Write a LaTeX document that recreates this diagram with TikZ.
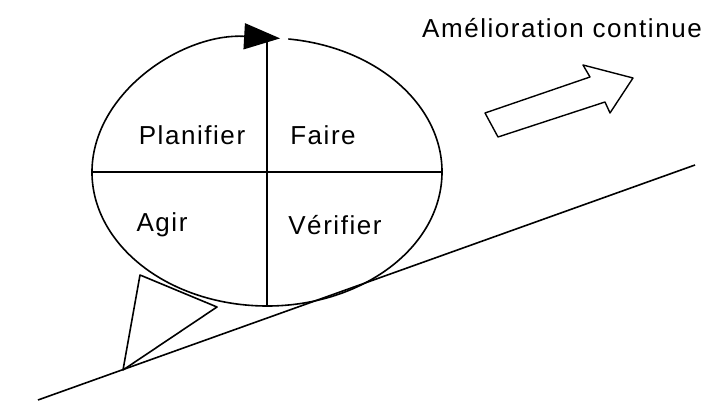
\documentclass[tikz,border=0pt]{standalone}
\usepackage{fontspec}
\usepackage{tikz}
\usetikzlibrary{arrows.meta, positioning, shapes.geometric}
\newfontfamily\diagfont[LetterSpace=6]{Liberation Sans}

\begin{document}
\begin{tikzpicture} [
                x=1pt, y=1pt,
                line/.style={draw, line width=1.6pt, line join=round},
                label/.style={font=\diagfont\fontsize{26}{30}\selectfont, inner sep=0pt},
                cyclearrow/.style={line, -{Triangle[length=36pt, width=26pt]}}
            ]
            \useasboundingbox (0,0) rectangle (713,409);

            % Incline
            \coordinate (slopeL) at (38,9);
            \coordinate (slopeR) at (695,244);
            \draw[line] (slopeL) -- (slopeR);

            % Wedge
            \coordinate (wedgeTop) at (140,134);
            \coordinate (wedgeTip) at (217,102);
            \coordinate (wedgeFoot) at (123,39);
            \draw[line] (wedgeTop) -- (wedgeTip) -- (wedgeFoot) -- cycle;

            % PDCA wheel
            \begin{scope}
                \node[ellipse, minimum width=350pt, minimum height=268pt, inner sep=0pt] (wheel) at (267,237) {};
                \draw[cyclearrow] (wheel.center) ++(83:175pt and 134pt)
                    arc[start angle=83, end angle=-274.3, x radius=175pt, y radius=134pt];
                \draw[line, line width=1.3pt] (wheel.west) -- (wheel.east);
                \draw[line, line width=1.3pt] (wheel.north) -- (wheel.south);
                \node[label] (plan) at (192,274) {Planifier};
                \node[label] (do) at (323,274) {Faire};
                \node[label] (act) at (162,184) {Agir};
                \node[label] (check) at (335,184) {Vérifier};
            \end{scope}

            % Continuous improvement
            \node[label] (improve) at (562,381) {Amélioration continue};
            \draw[line, line width=1.4pt] (498,272) -- (485,296) -- (590,332) -- (583,344)
                -- (633,331) -- (610,296) -- (605,307) -- cycle;
        \end{tikzpicture}
\end{document}
